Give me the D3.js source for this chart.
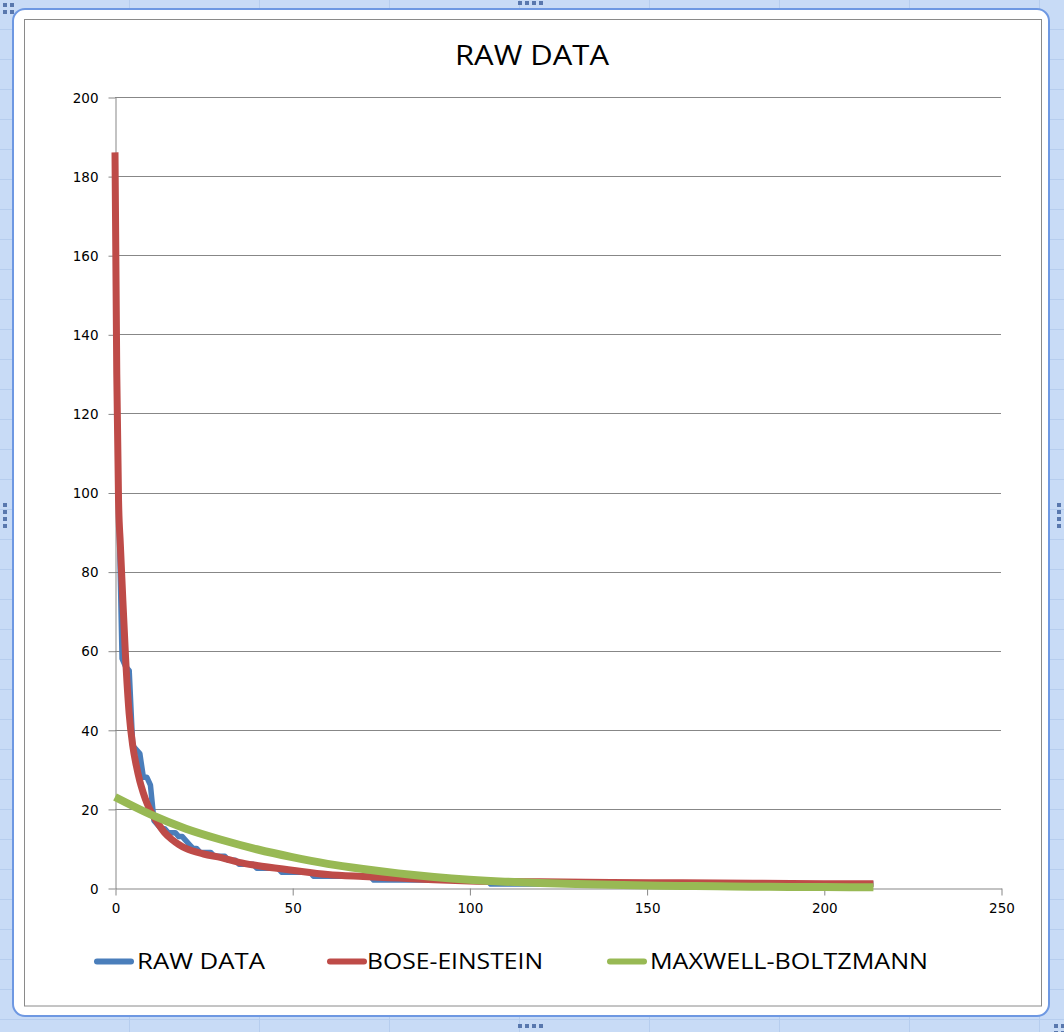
<!DOCTYPE html>
<html>
<head>
<meta charset="utf-8">
<script src="https://cdn.jsdelivr.net/npm/d3@7"></script>
<style>
html,body{margin:0;padding:0;background:#c9dbf6;}
svg{display:block;}
</style>
</head>
<body>
<script>
// ---- data ----
const chartTitle = "RAW DATA";
const seriesNames = ["RAW DATA", "BOSE-EINSTEIN", "MAXWELL-BOLTZMANN"];
const xTicks = [0, 50, 100, 150, 200, 250];
const yTicks = [0, 20, 40, 60, 80, 100, 120, 140, 160, 180, 200];

// RAW DATA (rank, count)
const rawX = [1, 2, 3, 4, 5, 6, 7, 8, 9, 10, 11, 12, 13, 14, 15, 16, 17, 18, 19, 20,
  21, 22, 23, 24, 25, 26, 27, 28, 29, 30, 31, 32, 33, 34, 35, 36, 37, 38, 39, 40,
  46, 47, 55, 56, 72, 73, 105, 106, 214];
const rawY = [100, 58, 56, 55, 36, 35, 34, 28, 28, 26, 17, 16, 15, 15, 14, 14, 14, 13, 13, 12,
  11, 10, 10, 9, 9, 9, 9, 8, 8, 8, 8, 7, 7, 7, 6, 6, 6, 6, 6, 5,
  5, 4, 4, 3, 3, 2, 2, 1, 1];

// BOSE-EINSTEIN fit
const beX = [0, 0.5, 1, 1.5, 2, 3, 4, 5, 6, 7, 8, 9, 10, 12, 14, 16, 18, 20, 25, 30, 35, 40,
  50, 60, 70, 80, 90, 100, 120, 140, 160, 180, 200, 214];
const beY = [186, 130, 98, 87, 77, 58, 44, 36, 31, 27, 24, 21.5, 19.5, 16.5, 14, 12.3, 11, 10, 8.6, 7.7, 6.5, 5.7,
  4.5, 3.4, 2.9, 2.5, 2.1, 1.8, 1.55, 1.4, 1.3, 1.2, 1.1, 1.05];

// MAXWELL-BOLTZMANN fit
const mbX = [0, 10, 20, 30, 40, 50, 60, 70, 80, 90, 100, 110, 120, 130, 140, 150, 160, 170, 180, 190, 200, 214];
const mbY = [23, 18.6, 15, 12.2, 9.8, 7.8, 6.1, 4.8, 3.7, 2.8, 2.1, 1.6, 1.25, 1.0, 0.8, 0.65, 0.52, 0.42, 0.34, 0.28, 0.23, 0.18];

const colors = ["#4a7ebb", "#be4b48", "#98b954"];
const widths = [5.5, 7, 8];

// ---- drawing ----
const W = 1064, H = 1032;
const svg = d3.select("body").append("svg").attr("width", W).attr("height", H);

// Excel selection frame
const defs = svg.append("defs");
const pat = defs.append("pattern").attr("id", "tile").attr("width", 130).attr("height", 30)
  .attr("patternUnits", "userSpaceOnUse");
pat.append("rect").attr("width", 130).attr("height", 30).attr("fill", "#c8dbf6");
pat.append("line").attr("x1", 0).attr("x2", 130).attr("y1", 29.5).attr("y2", 29.5).attr("stroke", "#b6cdee");
pat.append("line").attr("x1", 129.5).attr("x2", 129.5).attr("y1", 0).attr("y2", 30).attr("stroke", "#b6cdee");
svg.append("rect").attr("width", W).attr("height", H).attr("fill", "url(#tile)");
svg.append("rect").attr("x", 13).attr("y", 9).attr("width", 1036).attr("height", 1007)
  .attr("rx", 12).attr("fill", "#ffffff").attr("stroke", "#6e98e2").attr("stroke-width", 2);
svg.append("rect").attr("x", 24.5).attr("y", 19.5).attr("width", 1017).attr("height", 986.5)
  .attr("fill", "#ffffff").attr("stroke", "#8a8a8a").attr("stroke-width", 1);

// handles
const handleSpots = [[3, 3, 2, 2], [518, 1, 4, 1], [518, 1024, 4, 1], [3, 503, 1, 4], [1057, 503, 1, 4], [1054, 1024, 2, 2]];
handleSpots.forEach(([hx, hy, nx, ny]) => {
  for (let i = 0; i < nx; i++) for (let j = 0; j < ny; j++) {
    svg.append("rect").attr("x", hx + i * 7).attr("y", hy + j * 7).attr("width", 4).attr("height", 4)
      .attr("fill", "#3d5f9c").attr("opacity", 0.8);
  }
});

const x = d3.scaleLinear().domain([0, 250]).range([115, 1001]);
const y = d3.scaleLinear().domain([0, 200]).range([888, 97]);

// gridlines
svg.append("g").selectAll("line").data(yTicks.filter(d => d > 0)).join("line")
  .attr("x1", x(0)).attr("x2", x(250))
  .attr("y1", d => Math.round(y(d)) + 0.5).attr("y2", d => Math.round(y(d)) + 0.5)
  .attr("stroke", "#878787").attr("stroke-width", 1);

// axes
const yAxis = d3.axisLeft(y).tickValues(yTicks).tickSize(7).tickPadding(10).tickSizeOuter(0);
const gy = svg.append("g").attr("transform", `translate(${x(0) + 0.5},0.5)`).call(yAxis);
const xAxis = d3.axisBottom(x).tickValues(xTicks).tickSize(7).tickPadding(8).tickSizeOuter(0);
const gx = svg.append("g").attr("transform", `translate(0.5,${y(0) + 0.5})`).call(xAxis);
[gx, gy].forEach(g => {
  g.selectAll("path,line").attr("stroke", "#878787");
  g.selectAll("text").attr("fill", "#000").style("font-family", "'DejaVu Sans', Verdana, sans-serif").style("font-size", "13.5px");
});
gy.selectAll("text").attr("dy", "0.35em");

// lines
const rawPts = rawX.map((v, i) => [v, rawY[i]]);
const bePts = beX.map((v, i) => [v, beY[i]]);
const mbPts = mbX.map((v, i) => [v, mbY[i]]);

svg.append("path").attr("d", d3.line().x(d => x(d[0])).y(d => y(d[1])).curve(d3.curveLinear)(rawPts))
  .attr("fill", "none").attr("stroke", colors[0]).attr("stroke-width", widths[0]).attr("stroke-linejoin", "round");
svg.append("path").attr("d", d3.line().x(d => x(d[0])).y(d => y(d[1])).curve(d3.curveMonotoneX)(bePts))
  .attr("fill", "none").attr("stroke", colors[1]).attr("stroke-width", widths[1]).attr("stroke-linejoin", "round");
svg.append("path").attr("d", d3.line().x(d => x(d[0])).y(d => y(d[1])).curve(d3.curveMonotoneX)(mbPts))
  .attr("fill", "none").attr("stroke", colors[2]).attr("stroke-width", widths[2]).attr("stroke-linejoin", "round");

// title
svg.append("text").attr("x", 532).attr("y", 65).attr("text-anchor", "middle")
  .attr("textLength", 154).attr("lengthAdjust", "spacingAndGlyphs")
  .style("font-family", "'Open Sans', sans-serif").style("font-size", "27px").attr("fill", "#000")
  .text(chartTitle);

// legend
const legendPos = [
  { lx: 95, tx: 137, tw: 128 },
  { lx: 328, tx: 367, tw: 176 },
  { lx: 608, tx: 650, tw: 278 }
];
seriesNames.forEach((name, i) => {
  const p = legendPos[i];
  svg.append("line").attr("x1", p.lx + 2).attr("x2", p.lx + 36).attr("y1", 961.5).attr("y2", 961.5)
    .attr("stroke", colors[i]).attr("stroke-width", 6).attr("stroke-linecap", "round");
  svg.append("text").attr("x", p.tx).attr("y", 969)
    .attr("textLength", p.tw).attr("lengthAdjust", "spacingAndGlyphs")
    .style("font-family", "'Open Sans', sans-serif").style("font-size", "22px").attr("fill", "#000")
    .text(name);
});
</script>
</body>
</html>
